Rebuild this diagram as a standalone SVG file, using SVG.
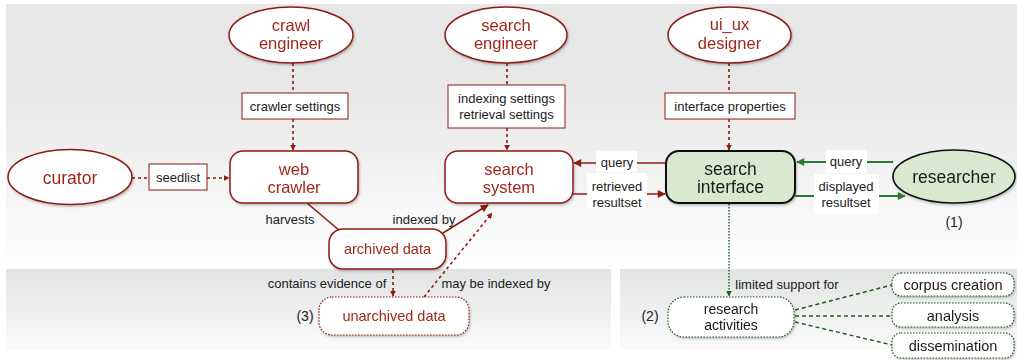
<svg xmlns="http://www.w3.org/2000/svg" width="1017" height="360" viewBox="0 0 1017 360">
<style>
text{font-family:"Liberation Sans",Arial,sans-serif;text-anchor:middle}
.nt{font-size:17.5px;fill:#a0281d}
.n2{font-size:16.5px}
.nt2{font-size:14.5px;fill:#a0281d}
.gt{font-size:14.5px;fill:#1a1a1a}
.bt{font-size:17.5px;fill:#1a1a1a}
.lt{font-size:13px;fill:#222}
.rn{fill:#fff;stroke:#8b1c12;stroke-width:1.5}
.gn{fill:#d8e9d0;stroke:#111;stroke-width:2}
.lb{fill:#fff;stroke:#8b1c12;stroke-width:1}
.lbg{fill:#fff;stroke:none}
.gd{fill:#fff;stroke:#1f5a1f;stroke-width:1.2;stroke-dasharray:1.5 1.5}
.rd{fill:#fff;stroke:#8b1c12;stroke-width:1.2;stroke-dasharray:1.5 1.5}
.r{fill:none;stroke:#8b1c12;stroke-width:1.6}
.rdash{fill:none;stroke:#8b1c12;stroke-width:1.6;stroke-dasharray:3 3}
.g{fill:none;stroke:#2b7a2b;stroke-width:1.8}
.gdot{fill:none;stroke:#1f5a1f;stroke-width:1.4;stroke-dasharray:1.5 1.5}
.gdash{fill:none;stroke:#1f5a1f;stroke-width:1.4;stroke-dasharray:4 3}
</style>
<defs>
<linearGradient id="bgT" x1="0" y1="0" x2="0" y2="1">
<stop offset="0" stop-color="#e7e7e7"/><stop offset="0.35" stop-color="#e8e8e8"/><stop offset="1" stop-color="#ffffff"/>
</linearGradient>
<linearGradient id="bgB" x1="0" y1="0" x2="0" y2="1">
<stop offset="0" stop-color="#e2e3e3"/><stop offset="1" stop-color="#fbfbfb"/>
</linearGradient>
<marker id="ar" viewBox="0 0 10 10" refX="9" refY="5" markerWidth="6" markerHeight="6" orient="auto" markerUnits="userSpaceOnUse">
<path d="M0,0 L10,5 L0,10 z" fill="#8b1c12"/>
</marker>
<marker id="arL" viewBox="0 0 10 10" refX="9" refY="5" markerWidth="9" markerHeight="8" orient="auto" markerUnits="userSpaceOnUse">
<path d="M0,0 L10,5 L0,10 z" fill="#8b1c12"/>
</marker>
<marker id="ag" viewBox="0 0 10 10" refX="9" refY="5" markerWidth="9" markerHeight="8" orient="auto" markerUnits="userSpaceOnUse">
<path d="M0,0 L10,5 L0,10 z" fill="#2b7a2b"/>
</marker>
<marker id="agd" viewBox="0 0 10 10" refX="9" refY="5" markerWidth="6" markerHeight="6" orient="auto" markerUnits="userSpaceOnUse">
<path d="M0,0 L10,5 L0,10 z" fill="#1f5a1f"/>
</marker>
<filter id="sh" x="-20%" y="-20%" width="140%" height="150%">
<feDropShadow dx="1" dy="1.5" stdDeviation="1.3" flood-color="#000" flood-opacity="0.25"/>
</filter>
</defs>

<g id="background">
<rect x="0" y="0" width="1017" height="360" fill="#fff"/>
<rect x="6" y="4" width="1011" height="265" fill="url(#bgT)"/>
<rect x="6" y="269" width="605" height="81" fill="url(#bgB)"/>
<rect x="620" y="269" width="397" height="81" fill="url(#bgB)"/>
</g>

<g id="connectors">
<line class="rdash" x1="293" y1="63" x2="293" y2="93"/>
<line class="rdash" x1="293" y1="119" x2="293" y2="150" marker-end="url(#ar)"/>
<line class="rdash" x1="507" y1="63" x2="507" y2="85"/>
<line class="rdash" x1="507" y1="128" x2="507" y2="150" marker-end="url(#ar)"/>
<line class="rdash" x1="729" y1="63" x2="729" y2="93"/>
<line class="rdash" x1="729" y1="119" x2="729" y2="150" marker-end="url(#ar)"/>
<line class="rdash" x1="132" y1="178" x2="149" y2="178"/>
<line class="rdash" x1="207" y1="178" x2="229" y2="178" marker-end="url(#ar)"/>
<line class="r" x1="307" y1="203" x2="340" y2="231"/>
<line class="r" x1="443" y1="233" x2="488" y2="205" marker-end="url(#arL)"/>
<line class="rdash" x1="393" y1="270" x2="393" y2="296" marker-end="url(#ar)"/>
<line class="rdash" stroke-dasharray="2 3" x1="424" y1="297" x2="492" y2="213" marker-end="url(#ar)"/>
<line class="r" x1="666" y1="163" x2="574" y2="163" marker-end="url(#arL)"/>
<rect class="lbg" x="596" y="151" width="41" height="21"/>
<text class="lt" x="617" y="167">query</text>
<line class="r" x1="573" y1="194" x2="665" y2="194" marker-end="url(#arL)"/>
<rect class="lbg" x="587" y="173" width="60" height="35"/>
<text class="lt" x="617" y="191">retrieved<tspan x="617" dy="16">resultset</tspan></text>
<line class="g" x1="893" y1="162" x2="797" y2="162" marker-end="url(#ag)"/>
<rect class="lbg" x="826" y="150" width="41" height="23"/>
<text class="lt" x="846" y="166">query</text>
<line class="g" x1="795" y1="196" x2="905" y2="196" marker-end="url(#ag)"/>
<rect class="lbg" x="814" y="174" width="65" height="40"/>
<text class="lt" x="846" y="191">displayed<tspan x="846" dy="16">resultset</tspan></text>
<line class="gdot" x1="729" y1="204" x2="729" y2="296" marker-end="url(#agd)"/>
<line class="gdash" x1="795" y1="310" x2="892" y2="285"/>
<line class="gdash" x1="795" y1="316" x2="892" y2="316"/>
<line class="gdash" x1="795" y1="322" x2="892" y2="345"/>
</g>

<g id="edge-labels">
<g id="lbl-crawler-settings"><rect class="lb" x="242" y="93" width="106" height="26"/><text class="lt" x="295" y="110.5">crawler settings</text></g>
<g id="lbl-seedlist"><rect class="lb" x="149" y="164" width="58" height="26"/><text class="lt" x="178" y="181.5">seedlist</text></g>
<g id="lbl-index-settings"><rect class="lb" x="448" y="85" width="117" height="43"/><text class="lt" x="506.5" y="103">indexing settings<tspan x="506.5" dy="16">retrieval settings</tspan></text></g>
<g id="lbl-interface-props"><rect class="lb" x="665" y="93" width="130" height="26"/><text class="lt" x="730" y="110.5">interface properties</text></g>
<text class="lt" x="290" y="223.5">harvests</text>
<text class="lt" x="424" y="223.5">indexed by</text>
<text class="lt" x="327" y="287.5">contains evidence of</text>
<text class="lt" x="496" y="287.5">may be indexed by</text>
<text class="lt" x="787" y="288.5">limited support for</text>
<text class="lt" style="font-size:14px" x="954" y="227">(1)</text>
<text class="lt" style="font-size:14px" x="650" y="321">(2)</text>
<text class="lt" style="font-size:14px" x="305" y="321">(3)</text>
</g>

<g id="crawl-engineer" filter="url(#sh)"><ellipse class="rn" cx="291" cy="35" rx="62" ry="28"/><text class="nt n2" x="291" y="30.5">crawl<tspan x="291" dy="18.5">engineer</tspan></text></g>
<g id="search-engineer" filter="url(#sh)"><ellipse class="rn" cx="506" cy="35" rx="61" ry="28"/><text class="nt n2" x="506" y="30.5">search<tspan x="506" dy="18.5">engineer</tspan></text></g>
<g id="ui-ux-designer" filter="url(#sh)"><ellipse class="rn" cx="729.5" cy="35" rx="61.5" ry="28"/><text class="nt n2" x="729.5" y="30">ui_ux<tspan x="729.5" dy="18.5">designer</tspan></text></g>
<g id="curator" filter="url(#sh)"><ellipse class="rn" cx="70" cy="177" rx="62" ry="27.5"/><text class="nt" x="70" y="183.5">curator</text></g>
<g id="web-crawler" filter="url(#sh)"><rect class="rn" x="230" y="151" width="128" height="52" rx="13"/><text class="nt n2" x="294" y="174.5">web<tspan x="294" dy="18.5">crawler</tspan></text></g>
<g id="search-system" filter="url(#sh)"><rect class="rn" x="445" y="151" width="128" height="52" rx="13"/><text class="nt n2" x="509" y="174.5">search<tspan x="509" dy="18.5">system</tspan></text></g>
<g id="search-interface" filter="url(#sh)"><rect class="gn" x="666" y="151" width="129" height="52" rx="13"/><text class="bt n2" x="730.5" y="174.5">search<tspan x="730.5" dy="18.5">interface</tspan></text></g>
<g id="researcher" filter="url(#sh)"><ellipse class="gn" style="stroke-width:1.6" cx="954" cy="176.5" rx="61" ry="26.5"/><text class="bt" x="954" y="183">researcher</text></g>
<g id="archived-data" filter="url(#sh)"><rect class="rn" x="329" y="229" width="117" height="40" rx="14"/><text class="nt2" x="387.5" y="254">archived data</text></g>
<g id="unarchived-data" filter="url(#sh)"><rect class="rd" x="319" y="297" width="150" height="38" rx="13"/><text class="nt2" x="394" y="321">unarchived data</text></g>
<g id="research-activities" filter="url(#sh)"><rect class="gd" x="668" y="297" width="126" height="40" rx="16"/><text class="gt" style="font-size:14px" x="731" y="313.5">research<tspan x="731" dy="16">activities</tspan></text></g>
<g id="corpus-creation" filter="url(#sh)"><rect class="gd" x="892" y="273" width="122" height="23" rx="9"/><text class="gt" x="953" y="290">corpus creation</text></g>
<g id="analysis" filter="url(#sh)"><rect class="gd" x="892" y="303" width="122" height="24" rx="9"/><text class="gt" x="953" y="320.5">analysis</text></g>
<g id="dissemination" filter="url(#sh)"><rect class="gd" x="892" y="333" width="122" height="25" rx="9"/><text class="gt" x="953" y="350.5">dissemination</text></g>
</svg>
